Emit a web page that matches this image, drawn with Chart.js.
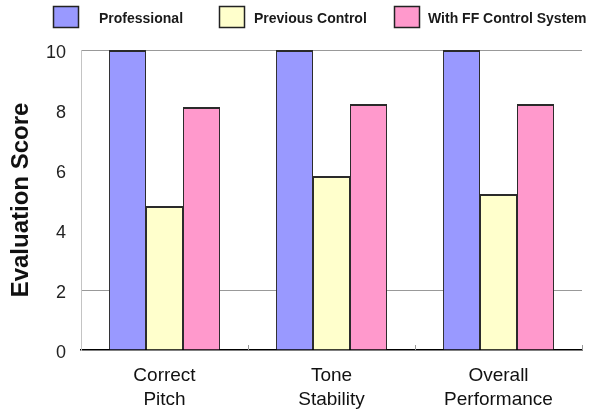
<!DOCTYPE html>
<html>
<head>
<meta charset="utf-8">
<script src="https://cdn.jsdelivr.net/npm/chart.js@4/dist/chart.umd.min.js"></script>
<style>
  html, body { margin: 0; padding: 0; background: #fff; }
  #wrap { width: 593px; height: 410px; }
</style>
</head>
<body>
<div id="wrap"><canvas id="c" width="593" height="410"></canvas></div>
<script>
// Evaluation scores per criterion
const categories = [['Correct', 'Pitch'], ['Tone', 'Stability'], ['Overall', 'Performance']];
const seriesNames = ['Professional', 'Previous Control', 'With FF Control System'];
const professional = [10, 10, 10];
const previousControl = [4.8, 5.8, 5.2];
const withFFControl = [8.1, 8.2, 8.2];
const yTicks = [0, 2, 4, 6, 8, 10];

const fills = ['#9999FF', '#FFFFCC', '#FF99CC'];
const FONT = "'Liberation Sans', Arial, sans-serif";

// Legend row drawn across the top of the canvas
const keyRow = {
  id: 'keyRow',
  afterDraw(chart) {
    const ctx = chart.ctx;
    const boxX = [53, 219, 394];
    const textX = [99, 254, 428];
    ctx.save();
    chart.data.datasets.forEach((ds, i) => {
      ctx.fillStyle = ds.backgroundColor;
      ctx.fillRect(boxX[i], 6, 26, 22);
      ctx.strokeStyle = '#222';
      ctx.lineWidth = 1.5;
      ctx.strokeRect(boxX[i] + 0.5, 6.5, 25, 21);
      ctx.fillStyle = '#1a1a1a';
      ctx.font = 'bold 14px ' + FONT;
      ctx.textBaseline = 'middle';
      ctx.textAlign = 'left';
      ctx.fillText(ds.label, textX[i], 19);
    });
    ctx.restore();
  }
};

// Short inward tick marks on the category axis at group boundaries
const categoryMarks = {
  id: 'categoryMarks',
  afterDatasetsDraw(chart) {
    const xs = chart.scales.x;
    const ctx = chart.ctx;
    const n = chart.data.labels.length;
    const step = (xs.getPixelForValue(n - 1) - xs.getPixelForValue(0)) / Math.max(n - 1, 1);
    ctx.save();
    ctx.strokeStyle = '#999';
    ctx.lineWidth = 1;
    for (let i = 0; i < n; i++) {
      const px = Math.round(xs.getPixelForValue(i) + step / 2) + 0.5;
      ctx.beginPath();
      ctx.moveTo(px, chart.chartArea.bottom);
      ctx.lineTo(px, chart.chartArea.bottom - 5);
      ctx.stroke();
    }
    ctx.restore();
  }
};

const barBorder = { top: 2, left: 1, right: 1, bottom: 0 };
const values = [professional, previousControl, withFFControl];

new Chart(document.getElementById('c'), {
  type: 'bar',
  data: {
    labels: categories,
    datasets: seriesNames.map((name, i) => ({
      label: name,
      data: values[i],
      backgroundColor: fills[i],
      borderColor: '#2a2a2a',
      borderWidth: barBorder,
      borderSkipped: 'bottom'
    }))
  },
  options: {
    responsive: false,
    devicePixelRatio: 1,
    animation: false,
    layout: { padding: { top: 50, right: 11, left: 0, bottom: 0 } },
    datasets: { bar: { categoryPercentage: 0.665, barPercentage: 1.0 } },
    plugins: {
      legend: { display: false },
      tooltip: { enabled: false }
    },
    scales: {
      x: {
        grid: { display: false, drawTicks: false },
        border: { display: true, color: '#000', width: 1.5 },
        ticks: {
          color: '#111',
          font: { family: FONT, size: 19, lineHeight: 1.3 },
          padding: 13,
          maxRotation: 0
        },
        afterFit(scale) { scale.height = 60; }
      },
      y: {
        min: 0,
        max: 10,
        afterBuildTicks(scale) { scale.ticks = yTicks.map(v => ({ value: v })); },
        grid: {
          drawTicks: false,
          color: ctx => (ctx.tick && (ctx.tick.value === 2 || ctx.tick.value === 10)) ? '#999' : 'rgba(0,0,0,0)',
          lineWidth: 1
        },
        border: { display: true, color: '#c4c4c4', width: 1 },
        ticks: {
          color: '#222',
          font: { family: FONT, size: 18 },
          padding: 15,
          labelOffset: 3
        },
        title: {
          display: true,
          text: 'Evaluation Score',
          color: '#111',
          font: { family: FONT, size: 24, weight: 'bold' },
          padding: { top: 7, bottom: 0 }
        },
        afterFit(scale) { scale.width = 81; }
      }
    }
  },
  plugins: [keyRow, categoryMarks]
});
</script>
</body>
</html>
